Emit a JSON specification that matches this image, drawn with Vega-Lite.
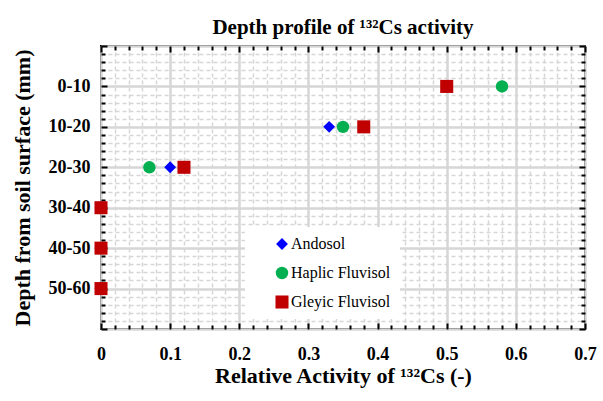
{
  "$schema": "https://vega.github.io/schema/vega-lite/v6.json",
  "width": 484,
  "height": 283,
  "autosize": "none",
  "padding": {"left": 101, "top": 46, "right": 18, "bottom": 72},
  "background": "white",
  "title": {"text": "Depth profile of ¹³²Cs activity", "font": "Liberation Serif", "fontSize": 21, "fontWeight": "bold", "color": "black", "anchor": "middle", "offset": -1},
  "config": {"font": "Liberation Serif", "view": {"stroke": "black", "strokeWidth": 2}, "legend": {"labelFont": "Liberation Serif"}},
  "data": {"values": [
    {"soil": "Andosol", "layer": "0-10", "depth_bottom_mm": 10, "activity": 0.58},
    {"soil": "Andosol", "layer": "10-20", "depth_bottom_mm": 20, "activity": 0.33},
    {"soil": "Andosol", "layer": "20-30", "depth_bottom_mm": 30, "activity": 0.1},
    {"soil": "Andosol", "layer": "30-40", "depth_bottom_mm": 40, "activity": 0},
    {"soil": "Andosol", "layer": "40-50", "depth_bottom_mm": 50, "activity": 0},
    {"soil": "Andosol", "layer": "50-60", "depth_bottom_mm": 60, "activity": 0},
    {"soil": "Haplic Fluvisol", "layer": "0-10", "depth_bottom_mm": 10, "activity": 0.58},
    {"soil": "Haplic Fluvisol", "layer": "10-20", "depth_bottom_mm": 20, "activity": 0.35},
    {"soil": "Haplic Fluvisol", "layer": "20-30", "depth_bottom_mm": 30, "activity": 0.07},
    {"soil": "Haplic Fluvisol", "layer": "30-40", "depth_bottom_mm": 40, "activity": 0},
    {"soil": "Haplic Fluvisol", "layer": "40-50", "depth_bottom_mm": 50, "activity": 0},
    {"soil": "Haplic Fluvisol", "layer": "50-60", "depth_bottom_mm": 60, "activity": 0},
    {"soil": "Gleyic Fluvisol", "layer": "0-10", "depth_bottom_mm": 10, "activity": 0.5},
    {"soil": "Gleyic Fluvisol", "layer": "10-20", "depth_bottom_mm": 20, "activity": 0.38},
    {"soil": "Gleyic Fluvisol", "layer": "20-30", "depth_bottom_mm": 30, "activity": 0.12},
    {"soil": "Gleyic Fluvisol", "layer": "30-40", "depth_bottom_mm": 40, "activity": 0},
    {"soil": "Gleyic Fluvisol", "layer": "40-50", "depth_bottom_mm": 50, "activity": 0},
    {"soil": "Gleyic Fluvisol", "layer": "50-60", "depth_bottom_mm": 60, "activity": 0}
  ]},
  "layer": [
    {
      "mark": {"type": "point", "filled": true, "opacity": 1, "clip": false},
      "encoding": {
        "x": {
          "field": "activity", "type": "quantitative",
          "scale": {"domain": [0, 0.7], "nice": false, "zero": false},
          "axis": {
            "orient": "bottom",
            "values": [0,0.02,0.04,0.06,0.08,0.1,0.12,0.14,0.16,0.18,0.2,0.22,0.24,0.26,0.28,0.3,0.32,0.34,0.36,0.38,0.4,0.42,0.44,0.46,0.48,0.5,0.52,0.54,0.56,0.58,0.6,0.62,0.64,0.66,0.68,0.7],
            "title": "Relative Activity of ¹³²Cs (-)",
            "titleFont": "Liberation Serif", "titleFontSize": 22, "titleFontWeight": "bold", "titleColor": "black", "titlePadding": 0,
            "labelFont": "Liberation Serif", "labelFontSize": 18, "labelFontWeight": "bold", "labelColor": "black",
            "labelExpr": "abs(datum.value*10-round(datum.value*10))<1e-6 ? ''+round(datum.value*10)/10 : ''",
            "labelOverlap": false, "labelFlush": false, "labelPadding": 22,
            "domain": false,
            "grid": true, "gridColor": "#d6d6d6",
            "gridWidth": {"condition": {"test": "abs(datum.value*10-round(datum.value*10))<1e-6", "value": 2.5}, "value": 1.5},
            "gridDash": {"condition": {"test": "abs(datum.value*10-round(datum.value*10))<1e-6", "value": []}, "value": [4, 3]},
            "ticks": true, "tickColor": "black",
            "tickSize": {"condition": {"test": "abs(datum.value*10-round(datum.value*10))<1e-6", "value": -6}, "value": -4},
            "tickWidth": 2
          }
        },
        "y": {
          "field": "depth_bottom_mm", "type": "quantitative",
          "scale": {"domain": [0, 70], "reverse": true, "nice": false, "zero": false},
          "axis": {
            "orient": "left",
            "values": [0,2,4,6,8,10,12,14,16,18,20,22,24,26,28,30,32,34,36,38,40,42,44,46,48,50,52,54,56,58,60,62,64,66,68,70],
            "title": "Depth from soil surface (mm)",
            "titleFont": "Liberation Serif", "titleFontSize": 22, "titleFontWeight": "bold", "titleColor": "black", "titlePadding": 14,
            "labelFont": "Liberation Serif", "labelFontSize": 18, "labelFontWeight": "bold", "labelColor": "black",
            "labelExpr": "(datum.value % 10 == 0 && datum.value > 0 && datum.value < 70) ? (datum.value-10)+'-'+datum.value : ''",
            "labelOverlap": false, "labelFlush": false, "labelPadding": 17,
            "domain": false,
            "grid": true, "gridColor": "#d6d6d6",
            "gridWidth": {"condition": {"test": "datum.value % 10 == 0", "value": 2.5}, "value": 1.5},
            "gridDash": {"condition": {"test": "datum.value % 10 == 0", "value": []}, "value": [4, 3]},
            "ticks": true, "tickColor": "black",
            "tickSize": {"condition": {"test": "datum.value % 10 == 0", "value": -6}, "value": -4},
            "tickWidth": 2
          }
        },
        "color": {
          "field": "soil", "type": "nominal",
          "scale": {"domain": ["Andosol", "Haplic Fluvisol", "Gleyic Fluvisol"], "range": ["#0000ff", "#00b050", "#c00000"]},
          "legend": {
            "orient": "none", "legendX": 144, "legendY": 181, "title": null,
            "fillColor": "white", "padding": 9, "symbolOffset": 20, "symbolSize": 110,
            "labelFont": "Liberation Serif", "labelFontSize": 16, "labelColor": "black", "labelOffset": 1,
            "rowPadding": 13, "symbolStrokeWidth": 0
          }
        },
        "shape": {
          "field": "soil", "type": "nominal",
          "scale": {"domain": ["Andosol", "Haplic Fluvisol", "Gleyic Fluvisol"], "range": ["diamond", "circle", "square"]}
        },
        "size": {
          "field": "soil", "type": "nominal",
          "scale": {"domain": ["Andosol", "Haplic Fluvisol", "Gleyic Fluvisol"], "range": [140, 170, 160]}
        }
      }
    },
    {
      "mark": {"type": "point", "opacity": 0},
      "encoding": {
        "x": {
          "field": "activity", "type": "quantitative",
          "axis": {
            "orient": "top",
            "values": [0,0.02,0.04,0.06,0.08,0.1,0.12,0.14,0.16,0.18,0.2,0.22,0.24,0.26,0.28,0.3,0.32,0.34,0.36,0.38,0.4,0.42,0.44,0.46,0.48,0.5,0.52,0.54,0.56,0.58,0.6,0.62,0.64,0.66,0.68,0.7],
            "title": null, "labels": false, "domain": false, "grid": false,
            "ticks": true, "tickColor": "black", "tickWidth": 2,
            "tickSize": {"condition": {"test": "abs(datum.value*10-round(datum.value*10))<1e-6", "value": -6}, "value": -4}
          }
        },
        "y": {
          "field": "depth_bottom_mm", "type": "quantitative",
          "axis": {
            "orient": "right",
            "values": [0,2,4,6,8,10,12,14,16,18,20,22,24,26,28,30,32,34,36,38,40,42,44,46,48,50,52,54,56,58,60,62,64,66,68,70],
            "title": null, "labels": false, "domain": false, "grid": false,
            "ticks": true, "tickColor": "black", "tickWidth": 2,
            "tickSize": {"condition": {"test": "datum.value % 10 == 0", "value": -6}, "value": -4}
          }
        }
      }
    }
  ],
  "resolve": {"axis": {"x": "independent", "y": "independent"}}
}
